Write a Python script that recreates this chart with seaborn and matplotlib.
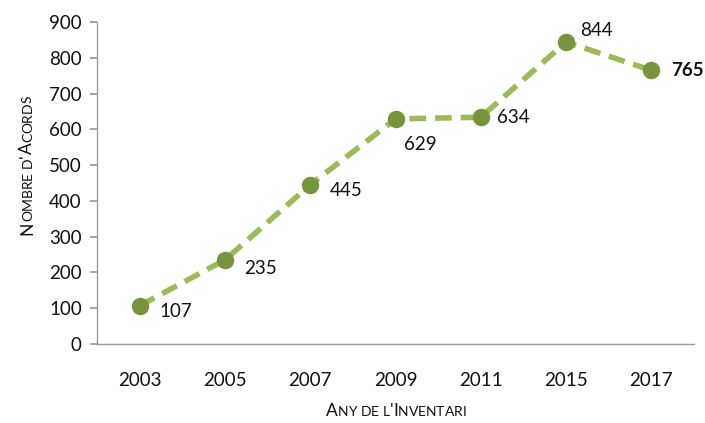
import matplotlib
matplotlib.use("Agg")
import matplotlib.pyplot as plt
import seaborn as sns
import pandas as pd

years = ["2003", "2005", "2007", "2009", "2011", "2015", "2017"]
acords = [107, 235, 445, 629, 634, 844, 765]
yticks = [0, 100, 200, 300, 400, 500, 600, 700, 800, 900]

sns.set_theme(style="white")
plt.rcParams["font.family"] = ["Lato", "DejaVu Sans"]

df = pd.DataFrame({"year": years, "n": acords})

fig = plt.figure(figsize=(7.05, 4.23), dpi=100)
ax = fig.add_axes([97 / 705, (423 - 344) / 423, (694 - 97) / 705, (344 - 22) / 423])

line_c = "#9BBB59"
mark_c = "#77933C"
sns.lineplot(data=df, x="year", y="n", ax=ax, color=line_c, lw=4,
             linestyle=(0, (3, 1.6)), sort=False)
sns.scatterplot(data=df, x="year", y="n", ax=ax, color=mark_c, s=135,
                edgecolor=mark_c, zorder=5, legend=False)

ax.set_xlim(-0.5, len(years) - 0.5)
ax.set_ylim(0, 900)
ax.set_yticks(yticks)
for s in ["top", "right"]:
    ax.spines[s].set_visible(False)
for s in ["left", "bottom"]:
    ax.spines[s].set_color("#9a9a9a")
    ax.spines[s].set_linewidth(1)
ax.tick_params(axis="y", which="both", left=True, length=5, color="#9a9a9a",
               labelsize=13.5, pad=6, labelcolor="#111111")
ax.tick_params(axis="x", bottom=False, labelsize=13.5, pad=14, labelcolor="#111111")
ax.set_xlabel("")
ax.set_ylabel("")

# data labels: offsets in points
offsets = [(14, -4, "left", "center"), (14, -6, "left", "center"), (14, -4, "left", "center"),
           (6, -12, "left", "top"), (12, 0, "left", "center"), (10, 8, "left", "center"),
           (14, 0, "left", "center")]
for i, (v, off) in enumerate(zip(acords, offsets)):
    dx, dy, ha, va = off
    ax.annotate(str(v), (i, v), xytext=(dx, dy), textcoords="offset points",
                ha=ha, va=va, fontsize=13.5, color="#111111",
                fontweight="bold" if i == len(years) - 1 else "normal")

# small-caps axis titles
fig.canvas.draw()
renderer = fig.canvas.get_renderer()

def small_caps(text, x, y, big, small, rotation=0):
    parts = []
    for ch in text:
        if ch == " ":
            parts.append((" ", small))
        elif ch.isupper() or ch == "'":
            parts.append((ch, big))
        else:
            parts.append((ch.upper(), small))
    widths = []
    for ch, sz in parts:
        t = fig.text(0, 0, ch if ch != " " else "a", fontsize=sz)
        bb = t.get_window_extent(renderer)
        w = bb.width if ch != " " else bb.width * 0.55
        t.remove()
        widths.append(w)
    total = sum(widths)
    W, H = fig.bbox.width, fig.bbox.height
    pos = -total / 2
    for (ch, sz), w in zip(parts, widths):
        if rotation == 0:
            fig.text(x + pos / W, y, ch, fontsize=sz, ha="left", va="baseline",
                     color="#111111")
        else:
            fig.text(x, y + pos / H, ch, fontsize=sz, ha="left", va="baseline",
                     rotation=90, rotation_mode="anchor", color="#111111")
        pos += w

small_caps("Any de l'Inventari", 396 / 705, (423 - 416) / 423, 12.5, 10)
small_caps("Nombre d'Acords", 32 / 705, (423 - 165) / 423, 12.5, 10, rotation=90)

fig.savefig("out.png", dpi=100)
